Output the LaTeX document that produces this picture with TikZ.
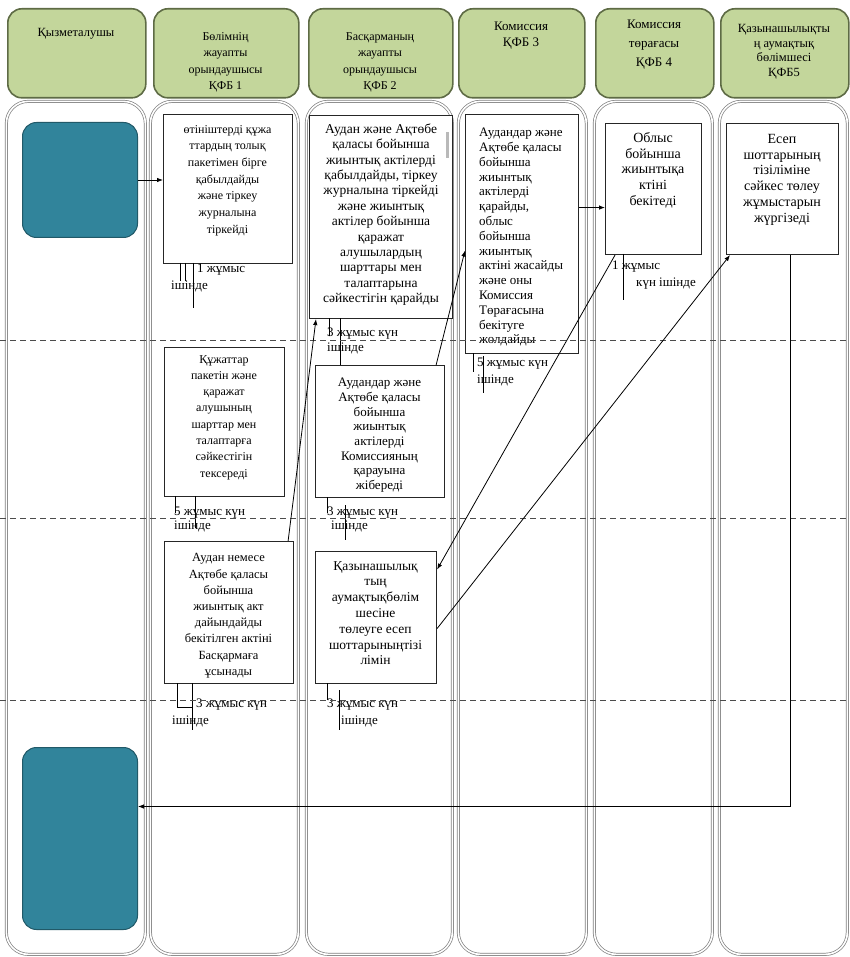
\documentclass[tikz,border=0pt]{standalone}
\usepackage{fontspec}
\setmainfont{Liberation Serif}
\usetikzlibrary{arrows.meta,calc}
\definecolor{hdrf}{HTML}{C3D69B}
\definecolor{hdrb}{HTML}{5E6B45}
\definecolor{termf}{HTML}{31849B}
\definecolor{termb}{HTML}{215968}
\definecolor{lanec}{HTML}{7F7F7F}
\tikzset{
 hdr/.style={draw=hdrb, line width=1.6pt, fill=hdrf, rounded corners=14pt, anchor=north west, inner sep=0},
 lane/.style={draw=lanec, double=white, double distance=1.6pt, line width=0.7pt, rounded corners=22pt, anchor=north west, inner sep=0},
 box/.style={draw=black!85, line width=1.1pt, fill=white, inner sep=0, anchor=north west},
 term/.style={draw=termb, line width=1pt, fill=termf, rounded corners=14pt, inner sep=0, anchor=north west},
 txt/.style={inner sep=0, align=center, anchor=north},
 arr/.style={-{Latex[length=6pt,width=4.5pt]}, line width=0.8pt},
 seg/.style={line width=0.8pt},
 sep/.style={dash pattern=on 6pt off 4pt, line width=1pt, draw=black!70},
 lbl/.style={inner sep=0, anchor=north west, font=\fontsize{13}{13}\selectfont}
}
\newcommand{\fs}[2]{\fontsize{#1}{#2}\selectfont}
\begin{document}
\begin{tikzpicture}[x=1pt,y=-1pt]
\useasboundingbox (0,0) rectangle (849,957);
% headers
\node[hdr, minimum width=138pt, minimum height=89pt] (h1) at (7,8) {};
\node[hdr, minimum width=145pt, minimum height=89pt] (h2) at (153,8) {};
\node[hdr, minimum width=144pt, minimum height=89pt] (h3) at (308,8) {};
\node[hdr, minimum width=126pt, minimum height=89pt] (h4) at (458,8) {};
\node[hdr, minimum width=118pt, minimum height=89pt] (h5) at (595,8) {};
\node[hdr, minimum width=128pt, minimum height=89pt] (h6) at (720,8) {};
\node[txt, font=\fs{12.5}{16}] (h1t) at (76,28) {Қызметалушы};
\node[txt, font=\fs{12}{16.5}] (h2t) at (225.5,32) {Бөлімнің\\жауапты\\орындаушысы\\ҚФБ 1};
\node[txt, font=\fs{12}{16.5}] (h3t) at (380,32) {Басқарманың\\жауапты\\орындаушысы\\ҚФБ 2};
\node[txt, font=\fs{13}{16}] (h4t) at (521,22) {Комиссия\\ҚФБ 3};
\node[txt, font=\fs{13}{19}] (h5t) at (654,20) {Комиссия\\төрағасы\\ҚФБ 4};
\node[txt, font=\fs{12.5}{14.8}] (h6t) at (784,24) {Қазынашылықты\\ң аумақтық\\бөлімшесі\\ҚФБ5};
% lanes
\node[lane, minimum width=139pt, minimum height=853pt] (l1) at (6,101) {};
\node[lane, minimum width=148pt, minimum height=853pt] (l2) at (150,101) {};
\node[lane, minimum width=146pt, minimum height=853pt] (l3) at (306,101) {};
\node[lane, minimum width=128pt, minimum height=853pt] (l4) at (458,101) {};
\node[lane, minimum width=118pt, minimum height=853pt] (l5) at (594,101) {};
\node[lane, minimum width=128pt, minimum height=853pt] (l6) at (719,101) {};
% terminals
\node[term, minimum width=115pt, minimum height=115pt] (t1) at (22,122) {};
\node[term, minimum width=115pt, minimum height=182pt] (t2) at (22,747) {};
% process boxes
\node[box, minimum width=129pt, minimum height=149pt] (b1) at (163,114) {};
\node[box, minimum width=120pt, minimum height=149pt] (b2) at (164,347) {};
\node[box, minimum width=129pt, minimum height=142pt] (b3) at (164,541) {};
\node[box, minimum width=143pt, minimum height=203pt] (c1) at (309,115) {};
\node[box, minimum width=129pt, minimum height=132pt] (c2) at (315,365) {};
\node[box, minimum width=121pt, minimum height=132pt] (c3) at (315,551) {};
\node[box, minimum width=113pt, minimum height=239pt] (d1) at (465,114) {};
\node[box, minimum width=96pt, minimum height=131pt] (e1) at (605,123) {};
\node[box, minimum width=112pt, minimum height=131pt] (f1) at (726,123) {};
\fill[gray!55] (445.5,132) rectangle (449,158);
% box texts
\node[txt, font=\fs{12}{16.7}] (b1t) at (227.5,125) {өтініштерді құжа\\ттардың толық\\пакетімен бірге\\қабылдайды\\және  тіркеу\\журналына\\тіркейді};
\node[txt, font=\fs{13.5}{15.4}] (c1t) at (381,123.5) {Аудан және Ақтөбе\\қаласы бойынша\\жиынтық актілерді\\қабылдайды, тіркеу\\журналына тіркейді\\және жиынтық\\актілер бойынша\\қаражат\\алушылардың\\шарттары мен\\талаптарына\\сәйкестігін қарайды};
\node[inner sep=0, anchor=north west, align=left, font=\fs{13}{14.8}] (d1t) at (479,128) {Аудандар және\\Ақтөбе қаласы\\бойынша\\жиынтық\\актілерді\\қарайды,\\облыс\\бойынша\\жиынтық\\актіні жасайды\\және оны\\Комиссия\\Төрағасына\\бекітуге\\жолдайды};
\node[txt, font=\fs{14}{15.8}] (e1t) at (653,132) {Облыс\\бойынша\\жиынтықа\\ктіні\\бекітеді};
\node[txt, font=\fs{14}{15.8}] (f1t) at (782,134) {Есеп\\шоттарының\\тізіліміне\\сәйкес төлеу\\жұмыстарын\\жүргізеді};
\node[txt, font=\fs{12}{16.3}] (b2t) at (224,355) {Құжаттар\\пакетін және\\қаражат\\алушының\\шарттар мен\\талаптарға\\сәйкестігін\\тексереді};
\node[txt, font=\fs{13}{14.7}] (c2t) at (379.5,378) {Аудандар және\\Ақтөбе қаласы\\бойынша\\жиынтық\\актілерді\\Комиссияның\\қарауына\\жібереді};
\node[txt, font=\fs{12.5}{16.2}] (b3t) at (228.5,553.5) {Аудан немесе\\Ақтөбе қаласы\\бойынша\\жиынтық акт\\дайындайды\\бекітілген актіні\\Басқармаға\\ұсынады};
\node[txt, font=\fs{13.5}{15.8}] (c3t) at (375.5,561) {Қазынашылық\\тың\\аумақтықбөлім\\шесіне\\төлеуге есеп\\шоттарыныңтізі\\лімін};
% time labels
\node[lbl] (lb1a) at (197,264) {1 жұмыс};
\node[lbl] (lb1b) at (171,281) {ішінде};
\node[lbl] (lc1a) at (327,328) {3 жұмыс күн};
\node[lbl] (lc1b) at (327,343) {ішінде};
\node[lbl] (ld1a) at (477,358) {5 жұмыс күн};
\node[lbl] (ld1b) at (477,375) {ішінде};
\node[lbl] (le1a) at (612,261) {1 жұмыс};
\node[lbl] (le1b) at (636,278) {күн ішінде};
\node[lbl] (lb2a) at (174,507) {5 жұмыс күн};
\node[lbl] (lb2b) at (174,521) {ішінде};
\node[lbl] (lc2a) at (327,507) {3 жұмыс күн};
\node[lbl] (lc2b) at (331,521) {ішінде};
\node[lbl] (lb3a) at (196,699) {3 жұмыс күн};
\node[lbl] (lb3b) at (172,716) {ішінде};
\node[lbl] (lc3a) at (327,699) {3 жұмыс күн};
\node[lbl] (lc3b) at (341,716) {ішінде};
% small bracket strokes
\draw[seg] (180,263) -- (180,281) (185,263) -- (185,281) (193,263) -- (193,308);
\draw[seg] (329,318) -- (329,336) (340,318) -- (340,365);
\draw[seg] (473,353) -- (473,372) (483,356) -- (483,393);
\draw[seg] (623,254) -- (623,300);
\draw[seg] (175,496) -- (175,513) (195,496) -- (195,528);
\draw[seg] (327,497) -- (327,513) (345,505) -- (345,540);
\draw[seg] (177,683) -- (177,707) -- (192,707) (192,683) -- (192,730);
\draw[seg] (327,683) -- (327,700) (339,690) -- (339,730);
% dashed separators
\draw[sep] (0,340) -- (849,340);
\draw[sep] (0,518) -- (849,518);
\draw[sep] (0,700) -- (849,700);
% connectors
\draw[arr] (t1.east) -- (t1.east -| b1.west);
\draw[arr] ([xshift=-6pt]b3.north east) -- ([xshift=7pt]c1.south west);
\draw[arr] ([xshift=-9pt]c2.north east) -- ([yshift=-16.5pt]d1.west);
\coordinate (e1in) at ([yshift=-18.5pt]e1.west);
\draw[arr] (d1.east |- e1in) -- (e1in);
\draw[arr] ([xshift=10pt]e1.south west) -- ([yshift=48pt]c3.east);
\draw[arr] ([yshift=-11pt]c3.east) -- ([xshift=4pt]f1.south west);
\draw[arr] ([xshift=8pt]f1.south) |- ([yshift=32pt]t2.east);
\end{tikzpicture}
\end{document}
